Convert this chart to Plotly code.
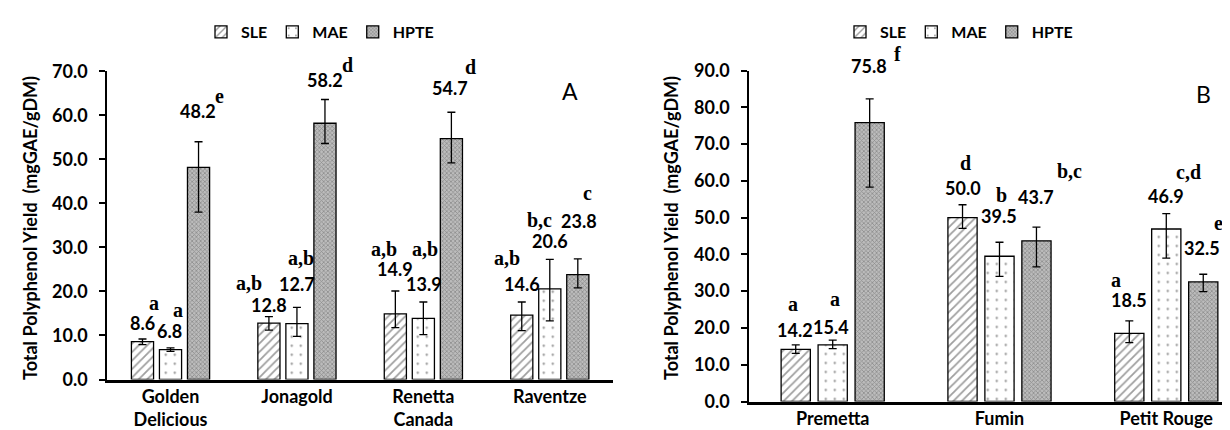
import plotly.graph_objects as go

# ---------------- data ----------------
cats_a = ["Golden<br>Delicious", "Jonagold", "Renetta<br>Canada", "Raventze"]
sle_a = [8.6, 12.8, 14.9, 14.6]
sle_a_hi = [0.6, 1.5, 5.2, 3.0]
sle_a_lo = [0.7, 1.6, 3.1, 3.5]
mae_a = [6.8, 12.7, 13.9, 20.6]
mae_a_hi = [0.4, 3.7, 3.7, 6.7]
mae_a_lo = [0.4, 2.9, 3.7, 7.3]
hpte_a = [48.2, 58.2, 54.7, 23.8]
hpte_a_hi = [5.8, 5.4, 6.0, 3.6]
hpte_a_lo = [10.2, 4.6, 5.5, 3.0]
sig_sle_a = ["a", "a,b", "a,b", "a,b"]
sig_mae_a = ["a", "a,b", "a,b", "b,c"]
sig_hpte_a = ["e", "d", "d", "c"]

cats_b = ["Premetta", "Fumin", "Petit Rouge"]
sle_b = [14.2, 50.0, 18.5]
sle_b_hi = [1.2, 3.5, 3.4]
sle_b_lo = [1.1, 2.9, 2.5]
mae_b = [15.4, 39.5, 46.9]
mae_b_hi = [1.3, 3.8, 4.2]
mae_b_lo = [1.0, 5.5, 7.9]
hpte_b = [75.8, 43.7, 32.5]
hpte_b_hi = [6.5, 3.7, 2.1]
hpte_b_lo = [17.5, 7.1, 2.6]
sig_sle_b = ["a", "d", "a"]
sig_mae_b = ["a", "b", "c,d"]
sig_hpte_b = ["f", "b,c", "e"]

y_ticks_a = [0, 10, 20, 30, 40, 50, 60, 70]
y_ticks_b = [0, 10, 20, 30, 40, 50, 60, 70, 80, 90]
series_names = ["SLE", "MAE", "HPTE"]
y_title = "Total Polyphenol Yield  (mgGAE/gDM)"

# ---------------- label placement (dx in category units, y in data units) ----------------
lab_a = {
    "SLE": dict(vdx=[-0.222, -0.219, -0.225, -0.22], vy=[12.8, 17.0, 25.2, 21.7],
                ldx=[-0.133, -0.381, -0.31, -0.34], ly=[17.4, 21.9, 29.6, 27.6]),
    "MAE": dict(vdx=[-0.005, 0.0, 0.004, 0.0], vy=[11.0, 21.7, 21.8, 31.4],
                ldx=[0.06, 0.03, 0.014, -0.08], ly=[15.8, 27.6, 29.6, 36.2]),
    "HPTE": dict(vdx=[0.219, 0.223, 0.21, 0.23], vy=[61.0, 68.0, 66.1, 36.0],
                 ldx=[0.389, 0.40, 0.374, 0.295], ly=[64.5, 71.5, 71.0, 42.4]),
}
lab_b = {
    "SLE": dict(vdx=[-0.227, -0.22, -0.224], vy=[19.5, 58.0, 27.5],
                ldx=[-0.238, -0.205, -0.3], ly=[26.6, 64.8, 33.1]),
    "MAE": dict(vdx=[-0.01, 0.0, 0.0], vy=[20.2, 50.5, 56.0],
                ldx=[0.016, 0.01, 0.132], ly=[27.9, 56.2, 62.3]),
    "HPTE": dict(vdx=[0.22, 0.219, 0.216], vy=[91.1, 55.5, 41.7],
                 ldx=[0.39, 0.42, 0.315], ly=[94.5, 62.8, 48.5]),
}

# ---------------- styles ----------------
W, H = 1230, 430
SANS = "Lato, 'Open Sans', sans-serif"
SERIF = "'Liberation Serif', 'DejaVu Serif', serif"
styles = {
    "SLE": dict(color="white", pattern=dict(shape="/", fgcolor="#404040", bgcolor="white",
                                            size=6, solidity=0.3)),
    "MAE": dict(color="white", pattern=dict(shape=".", fgcolor="#222222", bgcolor="white",
                                            size=9, solidity=0.05)),
    "HPTE": dict(color="#a8a8a8", pattern=dict(shape="x", fgcolor="#5e5e5e", bgcolor="#bcbcbc",
                                               size=3, solidity=0.45)),
}

fig = go.Figure()

panels = [
    dict(cats=cats_a, xa="x", ya="y", legend="legend", ymax=70,
         vals=[sle_a, mae_a, hpte_a], hi=[sle_a_hi, mae_a_hi, hpte_a_hi],
         lo=[sle_a_lo, mae_a_lo, hpte_a_lo], sig=[sig_sle_a, sig_mae_a, sig_hpte_a], lab=lab_a),
    dict(cats=cats_b, xa="x2", ya="y2", legend="legend2", ymax=90,
         vals=[sle_b, mae_b, hpte_b], hi=[sle_b_hi, mae_b_hi, hpte_b_hi],
         lo=[sle_b_lo, mae_b_lo, hpte_b_lo], sig=[sig_sle_b, sig_mae_b, sig_hpte_b], lab=lab_b),
]

annotations = []
for p in panels:
    for k, name in enumerate(series_names):
        st = styles[name]
        fig.add_trace(go.Bar(
            x=p["cats"], y=p["vals"][k], name=name, xaxis=p["xa"], yaxis=p["ya"],
            legend=p["legend"],
            marker=dict(color=st["color"], pattern=st["pattern"],
                        line=dict(color="black", width=1.3)),
            error_y=dict(type="data", symmetric=False, array=p["hi"][k],
                         arrayminus=p["lo"][k], color="black", thickness=1.3, width=4),
        ))
        lb = p["lab"][name]
        for i, v in enumerate(p["vals"][k]):
            annotations.append(dict(
                x=i + lb["vdx"][i], y=lb["vy"][i] / p["ymax"], xref=p["xa"],
                yref=p["ya"] + " domain", xanchor="center", yanchor="middle",
                text=f"{v:.1f}", showarrow=False,
                font=dict(family=SANS, size=18, color="black", weight="bold")))
            annotations.append(dict(
                x=i + lb["ldx"][i], y=lb["ly"][i] / p["ymax"], xref=p["xa"],
                yref=p["ya"] + " domain", xanchor="center", yanchor="middle",
                text=p["sig"][k][i], showarrow=False,
                font=dict(family=SERIF, size=20, color="black", weight="bold")))

# axis titles and panel letters
for xpix in (22, 663):
    annotations.append(dict(x=xpix / W, y=(H - 220) / H, xref="paper", yref="paper",
                            xanchor="center", yanchor="middle",
                            text=y_title, textangle=-90, showarrow=False,
                            font=dict(family=SANS, size=18, color="black", weight="bold")))
annotations.append(dict(x=562 / W, y=(H - 83) / H, xref="paper", yref="paper", text="A",
                        xanchor="center", yanchor="middle",
                        showarrow=False, font=dict(family=SANS, size=23, color="black")))
annotations.append(dict(x=1195 / W, y=(H - 86) / H, xref="paper", yref="paper", text="B",
                        xanchor="center", yanchor="middle",
                        showarrow=False, font=dict(family=SANS, size=23, color="black")))

tickfont = dict(family=SANS, size=18, color="black", weight="bold")
yaxis_common = dict(showline=True, linecolor="black", linewidth=2, ticks="outside",
                    ticklen=6, tickwidth=1.5, tickcolor="black", showgrid=False,
                    zeroline=False, tickformat=".1f", tickfont=tickfont,
                    ticklabelstandoff=8, automargin=False)
xaxis_common = dict(type="category", showline=True, linecolor="black", linewidth=2.5,
                    ticks="", showgrid=False, zeroline=False, tickfont=tickfont,
                    automargin=False, ticklabelstandoff=-1)

legend_common = dict(orientation="h", xanchor="center", yanchor="middle",
                     font=dict(family=SANS, size=16, color="black", weight="bold"),
                     bgcolor="rgba(0,0,0,0)", itemwidth=30)

fig.update_layout(
    width=W, height=H,
    margin=dict(l=0, r=0, t=0, b=0),
    paper_bgcolor="white", plot_bgcolor="white",
    barmode="group", bargap=0.335, bargroupgap=0.21,
    xaxis=dict(domain=[99.3 / W, 605 / W], anchor="y", range=[-0.5, 3.5], **xaxis_common),
    yaxis=dict(domain=[(H - 371.5) / H, (H - 63.3) / H], anchor="x", range=[0, 70],
               tickvals=y_ticks_a, **yaxis_common),
    xaxis2=dict(domain=[741.3 / W, 1.0], anchor="y2", range=[-0.5, 2.43], **xaxis_common),
    yaxis2=dict(domain=[(H - 393.5) / H, (H - 62.5) / H], anchor="x2", range=[0, 90],
                tickvals=y_ticks_b, **yaxis_common),
    legend=dict(x=312 / W, y=(H - 24) / H, **legend_common),
    legend2=dict(x=951 / W, y=(H - 24) / H, **legend_common),
    annotations=annotations,
    showlegend=True,
)

fig.write_html("out.html")
